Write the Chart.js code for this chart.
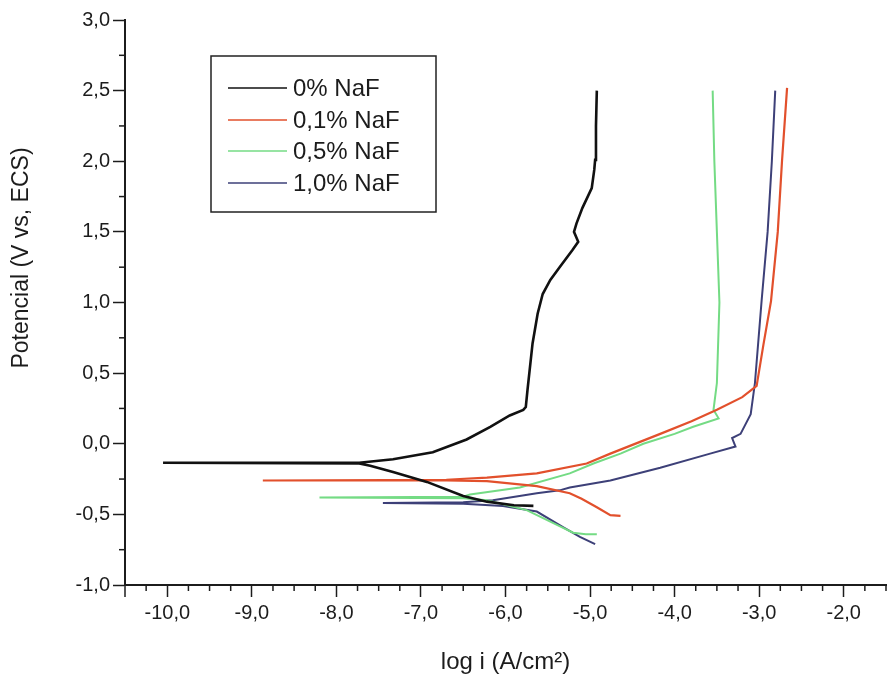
<!DOCTYPE html>
<html>
<head>
<meta charset="utf-8">
<script src="https://cdn.jsdelivr.net/npm/chart.js@4.4.1/dist/chart.umd.min.js"></script>
<style>
  html, body { margin: 0; padding: 0; background: #ffffff; }
  #wrap { width: 887px; height: 679px; position: relative; }
</style>
</head>
<body>
<div id="wrap"><canvas id="c" width="887" height="679"></canvas></div>
<script>
// ---- Data ----
const seriesLabels = ['0% NaF', '0,1% NaF', '0,5% NaF', '1,0% NaF'];

// 0% NaF : log i (x) and potential (y)
const naf0X = [-5.67, -5.9, -6.22, -6.5, -6.93, -7.33, -7.6, -7.73, -10.05, -7.73, -7.33, -6.86, -6.46, -6.18, -5.95, -5.79, -5.76, -5.74, -5.68, -5.62, -5.56, -5.47, -5.36, -5.21, -5.14, -5.19, -5.16, -5.09, -4.98, -4.95, -4.94, -4.93, -4.92];
const naf0Y = [-0.44, -0.435, -0.41, -0.37, -0.27, -0.2, -0.155, -0.14, -0.135, -0.135, -0.11, -0.06, 0.03, 0.12, 0.2, 0.24, 0.26, 0.38, 0.71, 0.92, 1.06, 1.16, 1.25, 1.37, 1.43, 1.5, 1.56, 1.67, 1.81, 1.94, 2.01, 2.25, 2.5];

// 0,1% NaF
const naf01X = [-4.64, -4.76, -4.92, -5.1, -5.24, -5.63, -6.22, -6.7, -8.87, -6.7, -6.22, -5.63, -5.04, -4.76, -4.17, -3.8, -3.5, -3.2, -3.03, -2.95, -2.86, -2.78, -2.73, -2.67];
const naf01Y = [-0.51, -0.505, -0.45, -0.39, -0.35, -0.3, -0.265, -0.26, -0.26, -0.255, -0.24, -0.21, -0.14, -0.07, 0.07, 0.16, 0.24, 0.33, 0.41, 0.7, 1.01, 1.5, 2.0, 2.52];

// 0,5% NaF
const naf05X = [-4.92, -5.05, -5.2, -5.44, -5.75, -6.22, -6.5, -8.2, -6.5, -6.42, -5.83, -5.24, -4.96, -4.64, -4.37, -4.0, -3.78, -3.48, -3.54, -3.5, -3.47, -3.5, -3.53, -3.55];
const naf05Y = [-0.64, -0.64, -0.63, -0.56, -0.47, -0.4, -0.385, -0.38, -0.375, -0.36, -0.31, -0.21, -0.14, -0.07, 0.0, 0.07, 0.12, 0.18, 0.24, 0.43, 1.0, 1.5, 2.0, 2.5];

// 1,0% NaF
const naf10X = [-4.94, -5.12, -5.32, -5.63, -6.03, -6.5, -7.45, -6.5, -6.15, -5.63, -5.36, -5.24, -4.76, -4.17, -3.58, -3.28, -3.32, -3.22, -3.1, -3.05, -2.97, -2.9, -2.85, -2.81];
const naf10Y = [-0.71, -0.66, -0.59, -0.48, -0.44, -0.425, -0.42, -0.415, -0.4, -0.35, -0.33, -0.31, -0.26, -0.17, -0.07, -0.02, 0.04, 0.07, 0.21, 0.43, 1.02, 1.5, 2.0, 2.5];

// Axis ranges and tick labels
const xRange = [-10.5, -1.5];
const yRange = [-1.0, 3.0];
const xTickValues = [-10, -9, -8, -7, -6, -5, -4, -3, -2];
const yTickValues = [-1.0, -0.5, 0.0, 0.5, 1.0, 1.5, 2.0, 2.5, 3.0];
const minorStep = 0.25;

const colors = ['#111111', '#e2502c', '#74db84', '#3d4078'];
const widths = [2.6, 2.2, 2.0, 2.0];

function zip(xs, ys) { return xs.map((x, i) => ({ x: x, y: ys[i] })); }
const allX = [naf0X, naf01X, naf05X, naf10X];
const allY = [naf0Y, naf01Y, naf05Y, naf10Y];

const datasets = seriesLabels.map((lab, i) => ({
  label: lab,
  data: zip(allX[i], allY[i]),
  showLine: true,
  borderColor: colors[i],
  backgroundColor: colors[i],
  borderWidth: widths[i],
  pointRadius: 0,
  tension: 0,
  fill: false
}));

const fmt = v => v.toFixed(1).replace('.', ',');
const TXT = '#1c1c1c';
const FONT = '"Liberation Sans", Arial, sans-serif';

function isOn(v, vals) { return vals.some(t => Math.abs(t - v) < 1e-6); }

// Minor ticks, y-axis title and in-plot legend
const decor = {
  id: 'decor',
  afterDraw(chart) {
    const ctx = chart.ctx;
    const xs = chart.scales.x, ys = chart.scales.y;
    const ca = chart.chartArea;
    ctx.save();
    ctx.strokeStyle = TXT;
    ctx.lineWidth = 1.5;
    // minor ticks x
    for (let v = xRange[0]; v <= xRange[1] + 1e-9; v += minorStep) {
      if (isOn(v, xTickValues)) continue;
      const px = xs.getPixelForValue(v);
      const len = Math.abs(v - xRange[0]) < 1e-6 ? 12 : 6;
      ctx.beginPath(); ctx.moveTo(px, ca.bottom); ctx.lineTo(px, ca.bottom + len); ctx.stroke();
    }
    // minor ticks y
    for (let v = yRange[0]; v <= yRange[1] + 1e-9; v += minorStep) {
      if (isOn(v, yTickValues)) continue;
      const py = ys.getPixelForValue(v);
      ctx.beginPath(); ctx.moveTo(ca.left, py); ctx.lineTo(ca.left - 6, py); ctx.stroke();
    }
    // y-axis title
    ctx.fillStyle = TXT;
    ctx.font = '23px ' + FONT;
    ctx.textAlign = 'center';
    ctx.textBaseline = 'middle';
    ctx.translate(22, 258);
    ctx.rotate(-Math.PI / 2);
    ctx.fillText('Potencial (V vs, ECS)', 0, 0);
    ctx.restore();

    // legend box
    ctx.save();
    ctx.strokeStyle = '#222';
    ctx.lineWidth = 1.5;
    ctx.fillStyle = '#ffffff';
    ctx.fillRect(211, 56, 225, 156);
    ctx.strokeRect(211, 56, 225, 156);
    const rows = [88, 120, 151, 183];
    ctx.font = '24px ' + FONT;
    ctx.textAlign = 'left';
    ctx.textBaseline = 'middle';
    chart.data.datasets.forEach((ds, i) => {
      ctx.strokeStyle = ds.borderColor;
      ctx.lineWidth = 1.5;
      ctx.beginPath(); ctx.moveTo(228, rows[i]); ctx.lineTo(287, rows[i]); ctx.stroke();
      ctx.fillStyle = TXT;
      ctx.fillText(ds.label, 293, rows[i] + 1);
    });
    ctx.restore();
  }
};

new Chart(document.getElementById('c'), {
  type: 'scatter',
  data: { datasets: datasets },
  options: {
    responsive: false,
    animation: false,
    layout: { padding: { top: 20, right: 1, bottom: 0, left: 0 } },
    plugins: {
      legend: { display: false },
      tooltip: { enabled: false }
    },
    scales: {
      x: {
        type: 'linear',
        min: xRange[0], max: xRange[1],
        afterBuildTicks: s => { s.ticks = xTickValues.map(v => ({ value: v })); },
        afterFit: s => { s.height = 94; },
        border: { display: true, color: TXT, width: 2 },
        grid: { drawOnChartArea: false, drawTicks: true, tickLength: 12, tickColor: TXT, tickWidth: 1.5 },
        ticks: {
          autoSkip: false,
          maxRotation: 0,
          padding: 4,
          color: TXT,
          font: { family: FONT, size: 20 },
          callback: v => fmt(v)
        },
        title: {
          display: true,
          text: 'log i (A/cm²)',
          color: TXT,
          font: { family: FONT, size: 24 },
          padding: { top: 0, bottom: 2 }
        }
      },
      y: {
        type: 'linear',
        min: yRange[0], max: yRange[1],
        afterBuildTicks: s => { s.ticks = yTickValues.map(v => ({ value: v })); },
        afterFit: s => { s.width = 125; },
        border: { display: true, color: TXT, width: 2 },
        grid: { drawOnChartArea: false, drawTicks: true, tickLength: 12, tickColor: TXT, tickWidth: 1.5 },
        ticks: {
          autoSkip: false,
          padding: 3,
          color: TXT,
          font: { family: FONT, size: 20 },
          callback: v => fmt(v)
        }
      }
    }
  },
  plugins: [decor]
});
</script>
</body>
</html>
